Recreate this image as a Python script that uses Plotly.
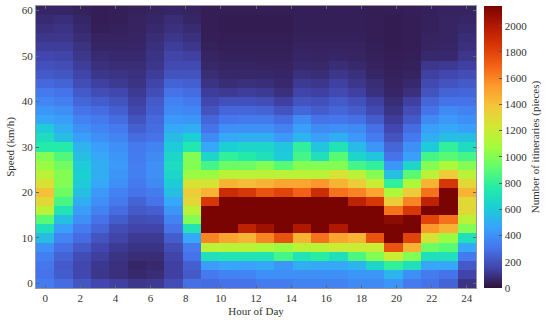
import plotly.graph_objects as go

# Speed bins (km/h), rows of the heat map
speeds = list(range(0, 62, 2))
# Hour-of-day columns (24 columns, drawn stretched over 0..24 like MATLAB imagesc)
hours = list(range(24))

# counts per hour, listed from speed 0 up to 60
h00 = [330,300,310,340,400,550,700,900,1150,1300,1400,1250,1150,1050,1000,760,680,600,470,420,370,320,270,220,190,160,130,110,90,75,60]
h01 = [280,230,220,250,290,360,450,560,720,860,950,1000,1000,960,880,760,560,500,440,400,340,300,250,210,180,150,130,110,100,85,60]
h02 = [210,160,160,175,220,280,330,400,440,500,560,600,620,600,560,520,450,400,350,300,260,220,180,150,130,110,95,80,70,60,45]
h03 = [160,110,115,135,160,200,260,300,350,400,430,480,500,500,480,450,400,360,320,280,230,180,140,110,90,75,60,50,40,35,35]
h04 = [140,90,90,100,120,150,180,230,280,320,350,400,420,430,420,400,360,320,280,240,200,160,120,100,80,70,60,50,45,40,40]
h05 = [110,70,60,80,100,120,150,180,220,250,300,320,340,340,330,320,280,240,200,160,140,120,100,90,80,70,60,55,50,50,45]
h06 = [120,80,70,80,100,120,150,190,240,300,330,380,400,400,380,350,300,280,270,240,220,180,150,130,110,100,90,80,70,60,50]
h07 = [180,140,140,150,180,230,300,350,420,480,560,600,650,680,650,600,550,480,430,380,350,300,250,200,170,150,130,110,90,80,60]
h08 = [290,220,240,300,330,480,720,1000,1150,1300,1350,1250,1050,1000,1000,740,620,500,420,370,320,280,240,200,170,140,110,90,75,60,50]
h09 = [280,320,440,700,1150,1600,2150,2150,2150,1850,1450,1250,1050,850,650,480,380,300,260,200,160,130,100,80,65,55,45,40,35,35,35]
h10 = [300,350,470,720,1150,1500,2150,2150,2150,2150,1900,1450,1150,950,800,620,480,400,310,260,190,120,80,65,55,45,40,35,30,30,35]
h11 = [300,360,460,720,1150,1450,1950,2150,2150,2150,1850,1420,1150,950,750,650,500,400,320,260,190,130,90,65,55,45,40,35,30,30,35]
h12 = [330,400,480,720,1100,1600,2050,2150,2150,2150,1750,1450,1150,1000,700,650,500,400,320,250,180,120,85,65,50,45,40,35,30,30,35]
h13 = [330,400,420,850,1050,1750,2150,2150,2150,2150,1800,1500,1150,900,600,580,430,350,280,200,140,90,70,60,50,45,40,35,30,30,35]
h14 = [350,400,500,720,1150,1450,2000,2150,2150,2150,1700,1500,1150,1000,850,800,520,450,380,260,200,150,120,90,70,60,50,45,40,40,40]
h15 = [350,400,480,780,1150,1650,2150,2150,2150,2150,1900,1550,1150,1000,700,580,450,380,300,230,190,140,110,80,65,55,50,45,40,40,40]
h16 = [350,400,480,700,1200,1500,2000,2150,2150,2150,1650,1450,1250,1000,900,720,500,400,310,260,220,170,140,110,80,60,50,45,40,40,40]
h17 = [380,420,520,870,1200,1450,2150,2150,2150,1950,1600,1350,1150,850,650,550,430,380,290,230,190,140,110,90,70,55,50,45,40,40,40]
h18 = [380,420,650,1000,1200,1750,2150,2150,2150,1850,1500,1200,1000,800,580,420,330,290,230,170,140,90,80,60,50,45,40,35,35,35,35]
h19 = [420,520,800,1200,1750,2150,2150,2100,1650,1350,1100,800,560,420,300,260,200,160,130,100,80,60,50,45,40,35,30,30,30,30,35]
h20 = [330,400,700,1000,1450,1800,2150,2150,1850,1600,1350,1100,900,650,450,400,320,280,220,180,140,90,70,50,45,40,35,35,35,35,40]
h21 = [300,330,470,700,950,1250,1550,1800,2150,1950,1650,1450,1150,1000,850,600,500,450,380,300,260,200,170,140,110,70,55,50,45,45,45]
h22 = [250,300,480,700,900,1050,1450,1650,2150,2150,2150,1850,1350,1100,900,800,560,480,430,380,300,250,200,160,120,70,60,55,55,55,50]
h23 = [100,150,220,320,480,700,1000,1150,1300,1300,1450,1300,1150,1000,850,680,560,450,400,350,300,260,220,180,140,110,90,80,70,60,50]

columns = [h00,h01,h02,h03,h04,h05,h06,h07,h08,h09,h10,h11,h12,h13,h14,h15,h16,h17,h18,h19,h20,h21,h22,h23]
z = [[col[i] for col in columns] for i in range(len(speeds))]

xticks = list(range(0, 25, 2))
yticks = list(range(0, 61, 10))
cbticks = list(range(0, 2001, 200))

font = dict(family="Liberation Serif", size=11, color="#333333")
step = 24 / (len(hours) - 1)

fig = go.Figure(go.Heatmap(
    z=z, x0=0, dx=step, y=speeds,
    colorscale="Turbo", zmin=0, zmax=2150,
    colorbar=dict(
        x=1.018, xanchor="left", thickness=18, len=1, lenmode="fraction",
        y=0.5, yanchor="middle", outlinewidth=0, xpad=0, ypad=0,
        tickvals=cbticks, ticks="inside", ticklen=3, tickcolor="#555",
        tickfont=dict(family="Liberation Serif", size=11, color="#333"),
        title=dict(text="Number of itineraries (pieces)", side="right",
                   font=dict(family="Liberation Serif", size=11, color="#333")),
    ),
))

axis_common = dict(showgrid=False, zeroline=False, showline=True, mirror="ticks",
                   linecolor="#999999", linewidth=1, ticks="inside", ticklen=3,
                   tickcolor="#666666", tickfont=font)
fig.update_xaxes(range=[-step / 2, 24 + step / 2], tickvals=xticks,
                 title=dict(text="Hour of Day", font=font, standoff=4), **axis_common)
fig.update_yaxes(range=[-1, 61], tickvals=yticks,
                 title=dict(text="Speed (km/h)", font=font, standoff=4), **axis_common)

fig.update_layout(
    width=550, height=324,
    margin=dict(l=36, r=74, t=6, b=36, autoexpand=False),
    paper_bgcolor="white", plot_bgcolor="white",
    font=font,
)

fig.write_html("out.html", config={"displayModeBar": False},
               post_script="document.body.style.margin='0';")
